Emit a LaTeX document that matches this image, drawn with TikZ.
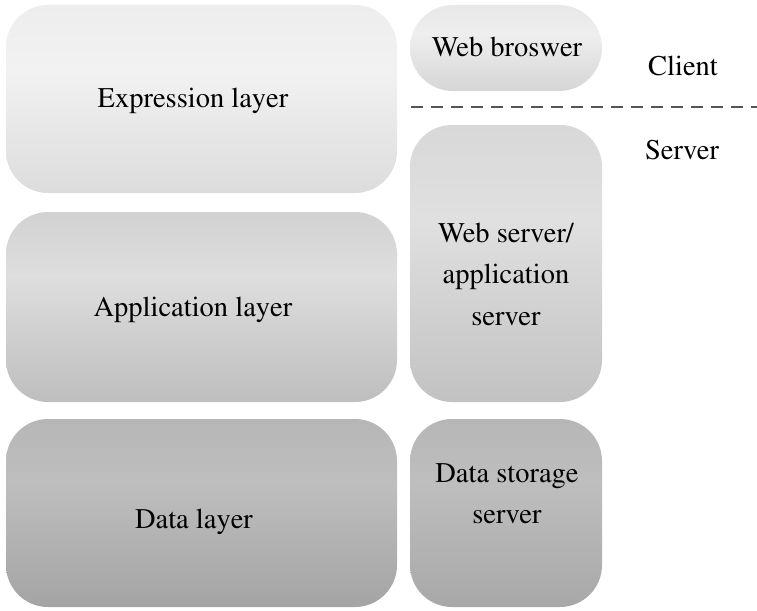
\documentclass[tikz,border=0pt]{standalone}
\usepackage[T1]{fontenc}
\usepackage{mathptmx}
\definecolor{ea}{HTML}{DCDCDC}\definecolor{eb}{HTML}{F2F2F2}\definecolor{ec}{HTML}{EDEDED}
\definecolor{aa}{HTML}{BEBEBE}\definecolor{ab}{HTML}{DEDEDE}\definecolor{ac}{HTML}{D2D2D2}
\definecolor{da}{HTML}{A4A4A4}\definecolor{db}{HTML}{BEBEBE}\definecolor{dc}{HTML}{B6B6B6}
\definecolor{wa}{HTML}{D6D6D6}\definecolor{wb}{HTML}{EEEEEE}\definecolor{wc}{HTML}{E8E8E8}
\definecolor{sa}{HTML}{C2C2C2}\definecolor{sb}{HTML}{E0E0E0}\definecolor{sc}{HTML}{D8D8D8}
\definecolor{ta}{HTML}{A8A8A8}\definecolor{tb}{HTML}{BEBEBE}\definecolor{tc}{HTML}{B6B6B6}
\definecolor{dashcol}{HTML}{555555}
\pgfdeclareverticalshading{shexpr}{100bp}{color(0bp)=(ea); color(25bp)=(ea); color(58bp)=(eb); color(75bp)=(ec); color(100bp)=(ec)}
\pgfdeclareverticalshading{shappl}{100bp}{color(0bp)=(aa); color(25bp)=(aa); color(58bp)=(ab); color(75bp)=(ac); color(100bp)=(ac)}
\pgfdeclareverticalshading{shdata}{100bp}{color(0bp)=(da); color(25bp)=(da); color(58bp)=(db); color(75bp)=(dc); color(100bp)=(dc)}
\pgfdeclareverticalshading{shweb}{100bp}{color(0bp)=(wa); color(25bp)=(wa); color(58bp)=(wb); color(75bp)=(wc); color(100bp)=(wc)}
\pgfdeclareverticalshading{shsrv}{100bp}{color(0bp)=(sa); color(25bp)=(sa); color(58bp)=(sb); color(75bp)=(sc); color(100bp)=(sc)}
\pgfdeclareverticalshading{shsto}{100bp}{color(0bp)=(ta); color(25bp)=(ta); color(58bp)=(tb); color(75bp)=(tc); color(100bp)=(tc)}
\tikzset{
  box/.style={shade, rounded corners=42pt, inner sep=0pt},
  lbl/.style={inner sep=0pt, align=center, font=\fontsize{28.5}{41.5}\selectfont},
  divider/.style={dash pattern=on 12pt off 8pt, line width=1.8pt, draw=dashcol}
}
\begin{document}
\begin{tikzpicture}[x=1pt,y=-1pt]
\useasboundingbox (0,0) rectangle (757,610);
\node[box, shading=shexpr, minimum width=391pt, minimum height=188pt] (expr) at (201.5,99) {};
\node[box, shading=shappl, minimum width=391pt, minimum height=190pt] (appl) at (201.5,307) {};
\node[box, shading=shdata, minimum width=391pt, minimum height=188pt] (data) at (201.5,513) {};
\node[box, shading=shweb, rounded corners=43pt, minimum width=192pt, minimum height=86pt] (web) at (506,48) {};
\node[box, shading=shsrv, minimum width=192pt, minimum height=277pt] (srv) at (506,263.5) {};
\node[box, shading=shsto, minimum width=192pt, minimum height=188pt] (sto) at (506,513) {};
\node[lbl] (exprt) at (193,101) {Expression layer};
\node[lbl] (applt) at (193,310) {Application layer};
\node[lbl] (datat) at (194,522) {Data layer};
\node[lbl] (webt) at (507,47) {Web broswer};
\node[lbl] (srvt) at (506,274) {Web server/\\application\\server};
\node[lbl] (stot) at (507,494) {Data storage\\server};
\node[lbl] (client) at (683,66) {Client};
\node[lbl] (server) at (682,150) {Server};
\coordinate (dl) at (411,107);
\coordinate (dr) at (757,107);
\draw[divider] (dl) -- (dr);
\end{tikzpicture}
\end{document}
